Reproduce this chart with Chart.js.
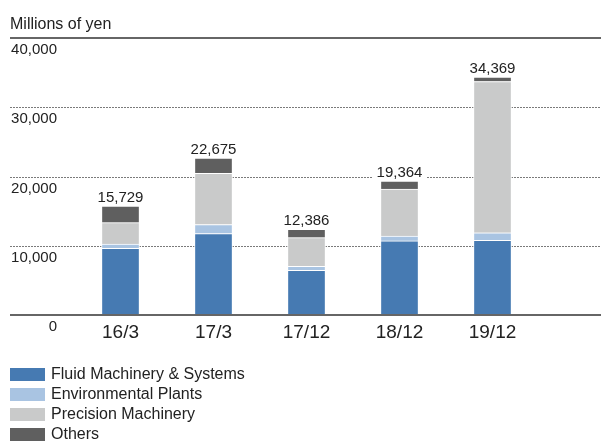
<!DOCTYPE html>
<html>
<head>
<meta charset="utf-8">
<script src="https://cdn.jsdelivr.net/npm/chart.js@4"></script>
<style>
  body { margin: 0; background: #fff; font-family: "Liberation Sans", Arial, sans-serif; }
  #wrap { position: relative; width: 601px; height: 441px; }
  #legend { position: absolute; left: 10px; top: 364px; }
  .item { display: flex; align-items: center; height: 20px; font-size: 16px; color: #222; }
  .box { width: 35px; height: 13px; margin-right: 6px; }
</style>
</head>
<body>
<div id="wrap">
  <canvas id="chart" width="601" height="441"></canvas>
  <div id="legend"></div>
</div>
<script>
// data (millions of yen)
const categories = ['16/3', '17/3', '17/12', '18/12', '19/12'];
const fluid = [9650, 11775, 6486, 10714, 10800];
const environmental = [600, 1300, 550, 700, 1100];
const precision = [3100, 7400, 4150, 6800, 21819];
const others = [2379, 2200, 1200, 1150, 650];
const yTicks = [0, 10000, 20000, 30000, 40000];

const seriesNames = ['Fluid Machinery & Systems', 'Environmental Plants', 'Precision Machinery', 'Others'];
const seriesColors = ['#467ab2', '#a9c4e2', '#c9caca', '#5f5f5f'];
const seriesData = [fluid, environmental, precision, others];

const totals = categories.map((c, i) => seriesData.reduce((s, d) => s + d[i], 0));

// lines, tick labels, totals
const decor = {
    id: 'decor',
    beforeDatasetsDraw(chart) {
        const ctx = chart.ctx, y = chart.scales.y;
        ctx.save();
        ctx.strokeStyle = '#7a7a7a';
        ctx.lineWidth = 1;
        ctx.setLineDash([2, 1]);
        yTicks.forEach(v => {
            if (v === 0 || v === yTicks[yTicks.length - 1]) return;
            const py = Math.round(y.getPixelForValue(v)) + 0.5;
            ctx.beginPath();
            ctx.moveTo(10, py);
            ctx.lineTo(601, py);
            ctx.stroke();
        });
        ctx.restore();
    },
    afterDatasetsDraw(chart) {
        const ctx = chart.ctx, y = chart.scales.y, x = chart.scales.x;
        ctx.save();
        ctx.strokeStyle = '#666';
        ctx.lineWidth = 2;
        [yTicks[0], yTicks[yTicks.length - 1]].forEach(v => {
            const py = Math.round(y.getPixelForValue(v));
            ctx.beginPath();
            ctx.moveTo(10, py);
            ctx.lineTo(601, py);
            ctx.stroke();
        });

        ctx.fillStyle = '#222';
        ctx.font = '16px "Liberation Sans", Arial, sans-serif';
        ctx.textAlign = 'left';
        ctx.textBaseline = 'alphabetic';
        ctx.fillText('Millions of yen', 10, 29);

        ctx.font = '15px "Liberation Sans", Arial, sans-serif';
        ctx.textAlign = 'right';
        yTicks.forEach(v => {
            ctx.fillText(v.toLocaleString('en-US'), 57, y.getPixelForValue(v) + 16);
        });

        ctx.textAlign = 'center';
        totals.forEach((t, i) => {
            const px = x.getPixelForValue(i);
            const py = y.getPixelForValue(t) - 4;
            const s = t.toLocaleString('en-US');
            const w = ctx.measureText(s).width + 8;
            ctx.fillStyle = '#fff';
            ctx.fillRect(px - w / 2, py - 13, w, 16);
            ctx.fillStyle = '#222';
            ctx.fillText(s, px, py);
        });
        ctx.restore();
    }
};

new Chart(document.getElementById('chart'), {
    type: 'bar',
    data: {
        labels: categories,
        datasets: seriesData.map((d, k) => ({
            label: seriesNames[k],
            data: d,
            backgroundColor: seriesColors[k],
            borderColor: '#fff',
            borderWidth: 1,
            barThickness: 38
        }))
    },
    options: {
        responsive: false,
        animation: false,
        layout: { padding: { left: 74, right: 62, top: 38, bottom: 91 } },
        plugins: { legend: { display: false }, tooltip: { enabled: false } },
        scales: {
            x: {
                stacked: true,
                grid: { display: false, drawTicks: false },
                border: { display: false },
                ticks: { color: '#222', padding: 6, font: { size: 19, family: '"Liberation Sans", Arial, sans-serif' } }
            },
            y: { stacked: true, display: false, min: 0, max: 40000 }
        }
    },
    plugins: [decor]
});

// legend
const legend = document.getElementById('legend');
seriesNames.forEach((n, k) => {
    const row = document.createElement('div');
    row.className = 'item';
    row.innerHTML = '<span class="box" style="background:' + seriesColors[k] + '"></span>' + n;
    legend.appendChild(row);
});
</script>
</body>
</html>
